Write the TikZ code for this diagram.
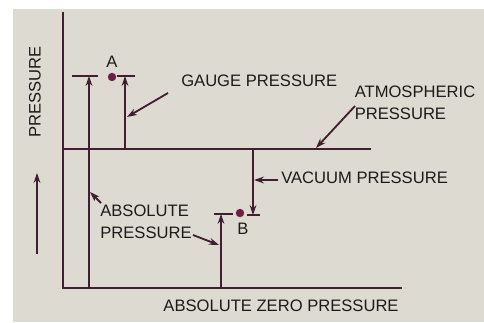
\documentclass[tikz,border=0pt]{standalone}
\usepackage{fontspec}
\setmainfont{Liberation Sans}
\usepackage{xcolor}
\usetikzlibrary{positioning,arrows.meta,calc}
\definecolor{paper}{RGB}{221,219,209}
\definecolor{ink}{RGB}{66,30,50}
\definecolor{dotc}{RGB}{112,30,70}
\definecolor{txt}{RGB}{28,26,26}
\begin{document}
\begin{tikzpicture}[
    x=0.025cm, y=-0.025cm,
    >={Stealth[length=2.5mm,width=1.7mm]},
    line/.style={draw=ink, line width=1.3pt},
    lbl/.style={text=txt, font=\fontsize{11.8}{15.5}\selectfont, inner sep=0pt, align=left},
    dot/.style={circle, fill=dotc, inner sep=0pt, minimum size=2.1mm},
  ]
    \useasboundingbox (0,0) rectangle (484,322);
    \fill[white] (0,0) rectangle (484,322);
    \fill[paper] (13,9) rectangle (484,322);
    % axes and levels
    \coordinate (ytop) at (63,12);
    \coordinate (orig) at (63,288);
    \coordinate (zend) at (402,288);
    \coordinate (atm0) at (63,149);
    \coordinate (atm1) at (371,149);
    \draw[line] (ytop) -- (orig) -- (zend);
    \draw[line] (atm0) -- (atm1);
    \node[lbl, rotate=90] (ylab) at (35,92) {PRESSURE};
    \coordinate (up0) at (37,254);
    \coordinate (up1) at (37,173);
    \draw[line, ->] (up0) -- (up1);
    % point A
    \node[dot] (ptA) at (112,77) {};
    \node[lbl] (labA) at (112,62) {A};
    \coordinate (absA0) at (89,288);
    \coordinate (absA1) at (89,76);
    \draw[line, ->] (absA0) -- (absA1);
    \draw[line] ($(absA1)+(-17,0)$) -- ($(absA1)+(9,0)$);
    \coordinate (gau0) at (125,149);
    \coordinate (gau1) at (125,76);
    \draw[line, ->] (gau0) -- (gau1);
    \draw[line] ($(gau1)+(-8,0)$) -- ($(gau1)+(10,0)$);
    \node[lbl, anchor=west] (gauge) at (181,81) {GAUGE PRESSURE};
    \coordinate (gauP) at (168,93);
    \coordinate (gauQ) at (127,117);
    \draw[line, ->] (gauP) -- (gauQ);
    % atmospheric
    \node[lbl] (atmlab) at (415,103) {ATMOSPHERIC\\PRESSURE};
    \coordinate (atmP) at (355,106);
    \coordinate (atmQ) at (316,148);
    \draw[line, ->] (atmP) -- (atmQ);
    % point B
    \node[dot] (ptB) at (240,213) {};
    \node[lbl] (labB) at (243,229) {B};
    \coordinate (vac0) at (253,149);
    \coordinate (vac1) at (253,215);
    \draw[line, ->] (vac0) -- (vac1);
    \draw[line] ($(vac1)+(-6,0)$) -- ($(vac1)+(7,0)$);
    \node[lbl, anchor=west] (vaclab) at (281,178) {VACUUM PRESSURE};
    \coordinate (vacP) at (278,180);
    \coordinate (vacQ) at (254,180);
    \draw[line, ->] (vacP) -- (vacQ);
    \coordinate (absB0) at (221,288);
    \coordinate (absB1) at (221,214);
    \draw[line, ->] (absB0) -- (absB1);
    \draw[line] ($(absB1)+(-7,0)$) -- ($(absB1)+(12,0)$);
    % absolute labels
    \node[lbl] (abslab) at (146,222) {ABSOLUTE\\PRESSURE};
    \coordinate (absP) at (101,203);
    \coordinate (absQ) at (90,192);
    \draw[line, ->] (absP) -- (absQ);
    \coordinate (absR) at (193,235);
    \coordinate (absS) at (219,245);
    \draw[line, ->] (absR) -- (absS);
    \node[lbl] (zerolab) at (281,306) {ABSOLUTE ZERO PRESSURE};
\end{tikzpicture}
\end{document}
